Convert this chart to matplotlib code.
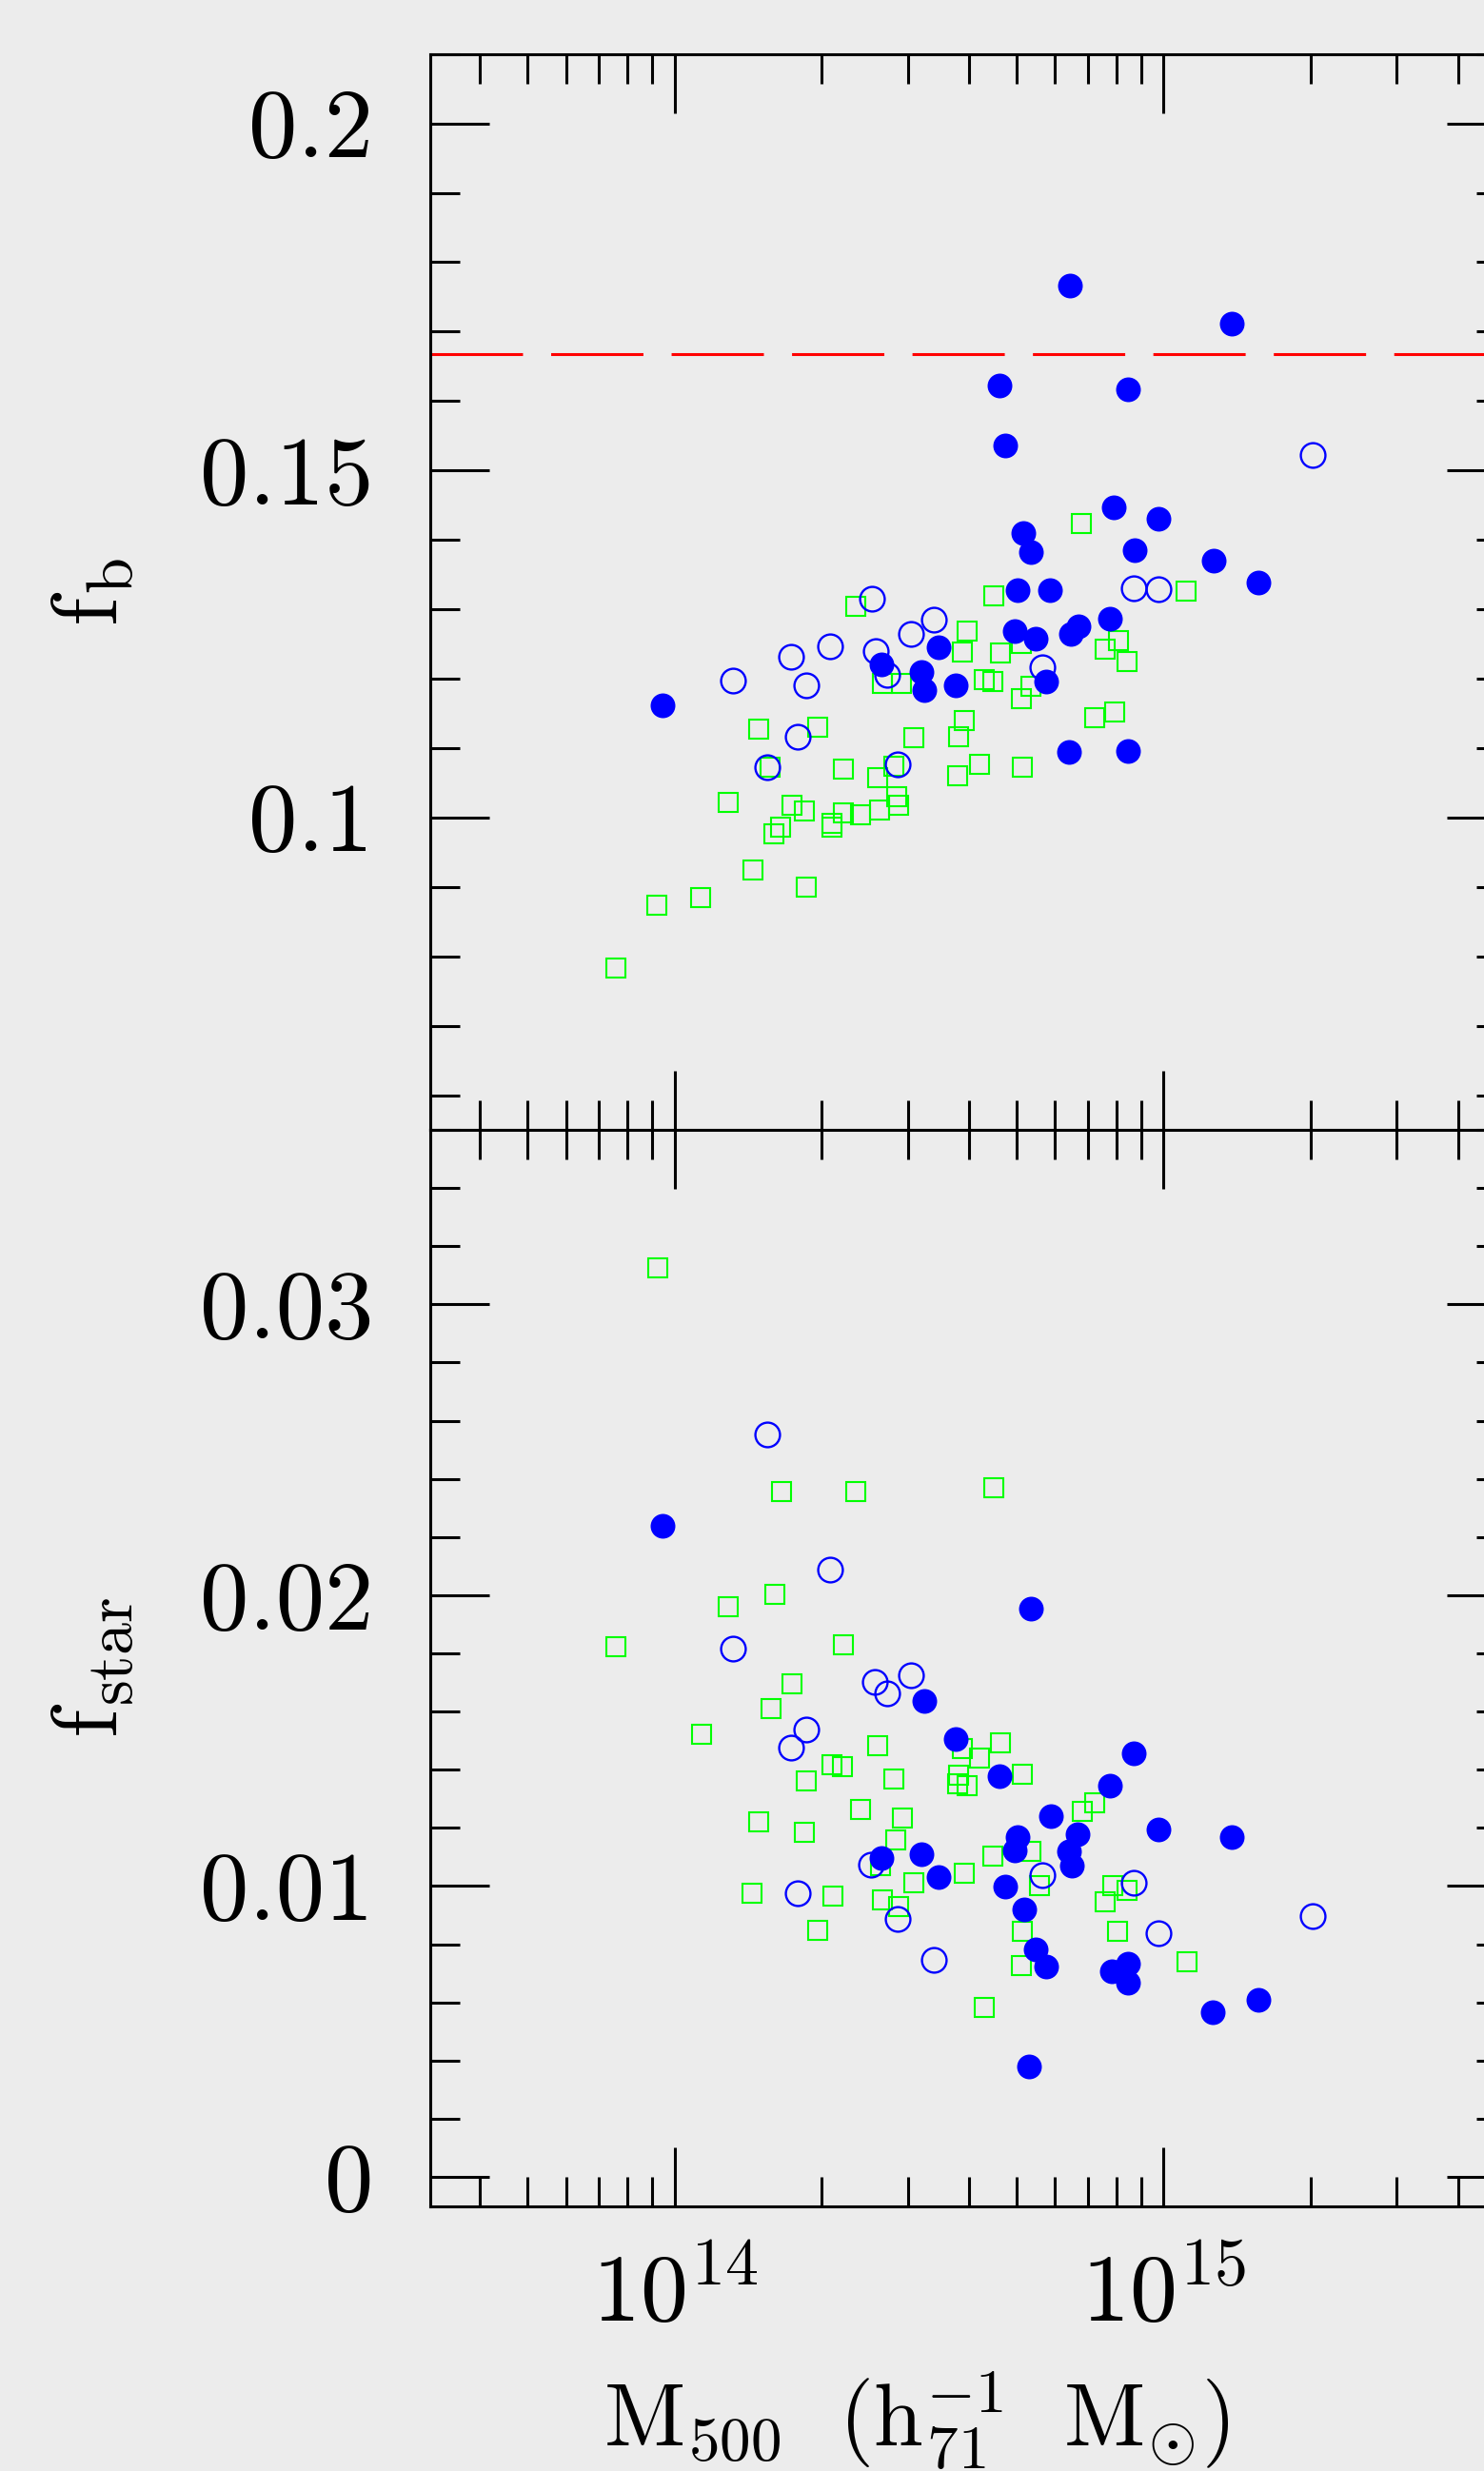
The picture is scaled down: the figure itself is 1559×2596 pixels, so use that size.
import numpy as np
import matplotlib
matplotlib.use('Agg')
import matplotlib.pyplot as plt
from matplotlib.ticker import FixedLocator, NullFormatter

plt.rcParams['font.family'] = 'cmr10'
plt.rcParams['mathtext.fontset'] = 'cm'
plt.rcParams['axes.formatter.use_mathtext'] = True
plt.rcParams['lines.scale_dashes'] = False

bg = '#ececec'

# top panel: log10(M500) and baryon fraction
fb_solid_logm = [14.809, 15.140, 14.665, 14.927, 14.676, 14.898, 14.990, 14.714, 14.729, 14.940,
                 15.102, 15.194, 14.702, 14.768, 14.890, 14.825, 14.810, 14.695, 14.738, 14.540,
                 14.422, 14.505, 14.510, 14.574, 14.759, 13.975, 14.807, 14.927]
fb_solid = [0.1767, 0.1711, 0.1623, 0.1617, 0.1536, 0.1447, 0.1430, 0.1410, 0.1383, 0.1385,
            0.1370, 0.1339, 0.1328, 0.1327, 0.1286, 0.1275, 0.1265, 0.1269, 0.1258, 0.1245,
            0.1220, 0.1210, 0.1183, 0.1191, 0.1196, 0.1162, 0.1095, 0.1096]

fb_open_logm = [15.304, 14.939, 14.989, 14.403, 14.531, 14.484, 14.318, 14.238, 14.411, 14.434,
                14.269, 14.119, 14.251, 14.190, 14.456, 14.752]
fb_open = [0.1522, 0.1330, 0.1329, 0.1315, 0.1285, 0.1265, 0.1246, 0.1231, 0.1240, 0.1205,
           0.1191, 0.1197, 0.1116, 0.1073, 0.1076, 0.1216]

fb_sq_logm = [14.832, 15.046, 14.653, 14.370, 14.598, 14.588, 14.666, 14.424, 14.464, 14.633,
              14.650, 14.710, 14.907, 14.881, 14.925, 14.728, 14.710, 14.171, 14.293, 14.489,
              14.593, 14.581, 14.860, 14.900, 14.196, 14.346, 14.448, 14.415, 14.578, 14.624,
              14.711, 14.455, 14.458, 14.110, 14.240, 14.266, 14.346, 14.381, 14.419, 14.321,
              14.322, 14.217, 14.203, 14.160, 14.270, 14.054, 13.964, 13.879]
fb_sq = [0.1424, 0.1326, 0.1319, 0.1304, 0.1269, 0.1238, 0.1237, 0.1193, 0.1193, 0.1198,
         0.1196, 0.1251, 0.1255, 0.1243, 0.1224, 0.1189, 0.1171, 0.1128, 0.1130, 0.1115,
         0.1140, 0.1117, 0.1144, 0.1152, 0.1073, 0.1070, 0.1074, 0.1057, 0.1060, 0.1077,
         0.1072, 0.1030, 0.1018, 0.1022, 0.1017, 0.1009, 0.1006, 0.1004, 0.1011, 0.0991,
         0.0986, 0.0986, 0.0977, 0.0925, 0.0899, 0.0885, 0.0874, 0.0783]

fb_cosmic = 0.1667

# bottom panel: log10(M500) and stellar fraction
fs_solid_logm = [13.976, 14.729, 14.510, 14.574, 14.423, 14.505, 14.539, 14.665, 14.939, 14.890,
                 14.769, 14.824, 14.702, 14.695, 14.806, 14.812, 14.990, 15.140, 14.676, 14.715,
                 14.738, 14.759, 14.927, 14.894, 14.928, 15.194, 15.101, 14.724]
fs_solid = [0.02238, 0.01954, 0.01637, 0.01506, 0.01095, 0.01108, 0.01031, 0.01379, 0.01455, 0.01346,
            0.01239, 0.01179, 0.01168, 0.01124, 0.01119, 0.01070, 0.01195, 0.01170, 0.00999, 0.00919,
            0.00781, 0.00724, 0.00733, 0.00706, 0.00669, 0.00609, 0.00565, 0.00379]

fs_open_logm = [14.190, 14.318, 14.119, 14.410, 14.435, 14.484, 14.269, 14.238, 14.401, 14.251,
                14.457, 14.531, 14.752, 14.938, 15.304, 14.989]
fs_open = [0.02554, 0.02087, 0.01815, 0.01701, 0.01662, 0.01725, 0.01537, 0.01476, 0.01075, 0.00975,
           0.00886, 0.00745, 0.01037, 0.01010, 0.00898, 0.00838]

fs_sq_logm = [13.965, 14.219, 14.370, 14.653, 14.204, 14.109, 13.879, 14.345, 14.240, 14.197,
              14.055, 14.415, 14.588, 14.624, 14.321, 14.344, 14.270, 14.448, 14.581, 14.578,
              14.598, 14.381, 14.466, 14.171, 14.266, 14.453, 14.421, 14.489, 14.593, 14.158,
              14.323, 14.425, 14.458, 14.293, 14.666, 14.711, 14.859, 14.833, 14.729, 14.650,
              14.747, 14.897, 14.925, 14.881, 14.711, 14.906, 14.710, 15.047, 14.633]
fs_sq = [0.03125, 0.02356, 0.02356, 0.02371, 0.02003, 0.01959, 0.01822, 0.01829, 0.01694, 0.01610,
         0.01523, 0.01482, 0.01474, 0.01441, 0.01416, 0.01411, 0.01361, 0.01367, 0.01381, 0.01351,
         0.01345, 0.01264, 0.01233, 0.01220, 0.01184, 0.01160, 0.01070, 0.01013, 0.01043, 0.00974,
         0.00965, 0.00954, 0.00928, 0.00849, 0.01492, 0.01386, 0.01285, 0.01257, 0.01121, 0.01103,
         0.01001, 0.01001, 0.00985, 0.00946, 0.00846, 0.00846, 0.00726, 0.00739, 0.00584]

x_ticks = [1e14, 1e15]
x_ticklabels = [r'$10^{14}$', r'$10^{15}$']
x_minor = [4e13, 5e13, 6e13, 7e13, 8e13, 9e13, 2e14, 3e14, 4e14, 5e14, 6e14, 7e14, 8e14, 9e14,
           2e15, 3e15, 4e15, 5e15]
fb_ticks = [0.1, 0.15, 0.2]
fb_ticklabels = ['0.1', '0.15', '0.2']
fs_ticks = [0.0, 0.01, 0.02, 0.03]
fs_ticklabels = ['0', '0.01', '0.02', '0.03']

fig = plt.figure(figsize=(15.59, 25.96), dpi=100, facecolor=bg)
ax1 = fig.add_axes([0.2899, 0.54276, 0.7248, 0.43540])
ax2 = fig.add_axes([0.2899, 0.10724, 0.7248, 0.43552])

blue = '#0000ff'
green = '#00ff00'


def draw(ax, sq_m, sq_y, op_m, op_y, so_m, so_y):
    ax.plot(10 ** np.array(sq_m), sq_y, 's', ms=14.3, mfc='none', mec=green, mew=1.5)
    ax.plot(10 ** np.array(op_m), op_y, 'o', ms=18.6, mfc='none', mec=blue, mew=1.7)
    ax.plot(10 ** np.array(so_m), so_y, 'o', ms=18.7, mfc=blue, mec=blue, mew=0)


draw(ax1, fb_sq_logm, fb_sq, fb_open_logm, fb_open, fb_solid_logm, fb_solid)
draw(ax2, fs_sq_logm, fs_sq, fs_open_logm, fs_open, fs_solid_logm, fs_solid)
ax1.axhline(fb_cosmic, color='#ff0000', lw=2.2, dashes=(69.8, 21.3))

for ax in (ax1, ax2):
    ax.set_facecolor(bg)
    ax.set_xscale('log')
    ax.set_xlim(10 ** 13.5, 10 ** 15.7)
    ax.xaxis.set_major_locator(FixedLocator(x_ticks))
    ax.xaxis.set_minor_locator(FixedLocator(x_minor))
    ax.xaxis.set_minor_formatter(NullFormatter())
    for s in ax.spines.values():
        s.set_linewidth(2.2)
    ax.tick_params(which='both', direction='in', top=True, right=True, width=2.2)
    ax.tick_params(which='major', length=44.6)
    ax.tick_params(which='minor', length=22.3)
    ax.tick_params(axis='y', pad=43, labelsize=74)
    ax.tick_params(axis='x', pad=35, labelsize=72)

ax1.set_ylim(0.055, 0.21)
ax1.set_yticks(fb_ticks)
ax1.set_yticklabels(fb_ticklabels)
ax1.yaxis.set_minor_locator(FixedLocator(np.arange(0.06, 0.2101, 0.01)))
ax1.set_xticklabels([])

ax2.set_ylim(-0.001, 0.036)
ax2.set_yticks(fs_ticks)
ax2.set_yticklabels(fs_ticklabels)
ax2.yaxis.set_minor_locator(FixedLocator(np.arange(0.0, 0.0361, 0.002)))
ax2.set_xticks(x_ticks)
ax2.set_xticklabels(x_ticklabels)

ax1.set_ylabel(r'$\mathrm{f}_{\mathrm{b}}$', fontsize=70, va='center')
ax1.yaxis.set_label_coords(-0.314, 0.5)
ax2.set_ylabel(r'$\mathrm{f}_{\mathrm{star}}$', fontsize=70, va='center')
ax2.yaxis.set_label_coords(-0.314, 0.5)
ax2.set_xlabel(r'$\mathrm{M}_{500}\ \ (\mathrm{h}_{71}^{-1}\ \ \mathrm{M}_{\odot})$', fontsize=67, va='top')
ax2.xaxis.set_label_coords(0.452, -0.1516)

fig.savefig('out.png', dpi=100, facecolor=bg)
